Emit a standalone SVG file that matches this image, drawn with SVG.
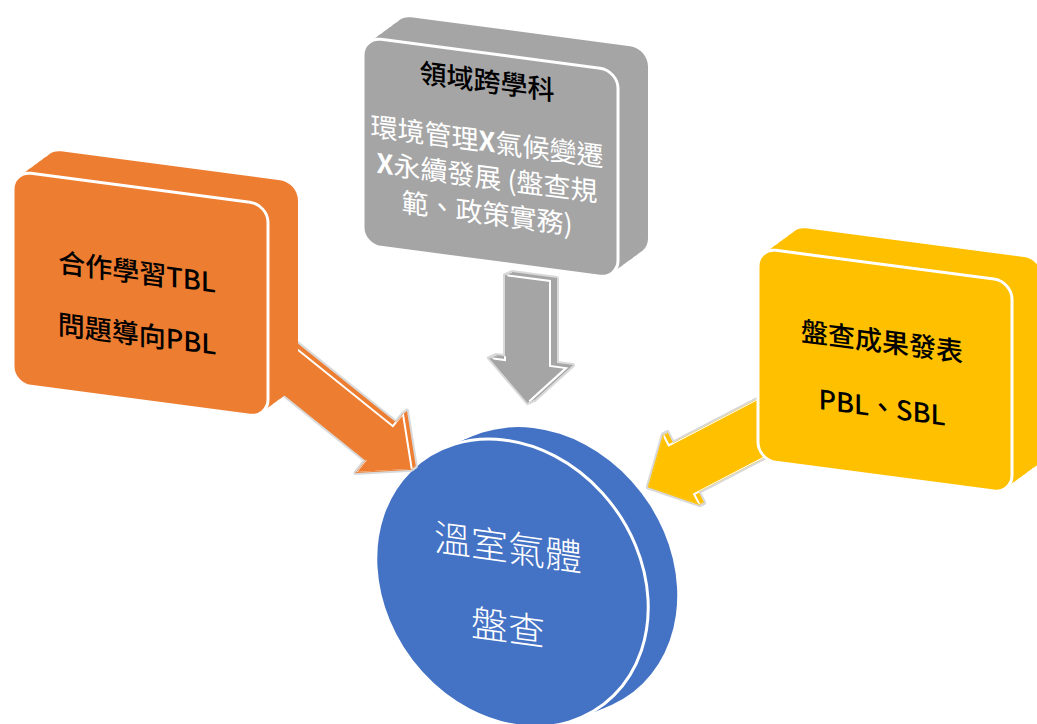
<svg xmlns="http://www.w3.org/2000/svg" xmlns:xlink="http://www.w3.org/1999/xlink" width="1037" height="724" viewBox="0 0 1037 724">
  <style>
    text { font-family: "Noto Sans CJK TC", "Noto Sans CJK SC", "Liberation Sans", sans-serif; text-anchor: middle; }
    .title { font-size: 27px; font-weight: 500; fill: #000; }
    .body { font-size: 27px; font-weight: 400; fill: #fff; }
    .disc-label { font-size: 37px; font-weight: 300; fill: #fff; }
    .halo use { fill: #D9D9D9; stroke: #D9D9D9; stroke-width: 4; stroke-linejoin: round; }
    .rim { fill: none; stroke: #fff; stroke-width: 2; }
    .face-rim { stroke: #fff; stroke-width: 3; }
  </style>
  <defs>
    <!-- front faces of the tilted boxes, in their own skewed plane -->
    <rect id="boxOrange" width="255" height="213" rx="18"/>
    <rect id="boxGray" width="255" height="208" rx="18"/>
    <rect id="boxYellow" width="254" height="212" rx="18"/>
    <!-- front face of the disc -->
    <circle id="disc" r="1" transform="matrix(136 16 8 143 512 583)" vector-effect="non-scaling-stroke"/>
    <!-- block arrows, local coordinates -->
    <polygon id="arrowGray" points="-22.5,0 22.5,0 22.5,85 38.5,85 0,125 -38.5,85 -22.5,85"/>
    <polygon id="arrowOrange" points="-15,-20 123,-20 123,-36 165,2 123,40 123,24 -15,24"/>
    <polygon id="arrowYellow" points="-10,27.5 105.5,27.5 105.5,40 143.5,0 105.5,-40 105.5,-27.5 -10,-27.5"/>
    <!-- extruded depth of each arrow, used to keep the white edge on the side faces only -->
    <clipPath id="clipGray">
      <use xlink:href="#arrowGray" x="2.33" y="-1.3"/>
      <use xlink:href="#arrowGray" x="4.67" y="-2.6"/>
      <use xlink:href="#arrowGray" x="7" y="-3.9"/>
    </clipPath>
    <clipPath id="clipOrange">
      <use xlink:href="#arrowOrange" x="0.4" y="-1.63"/>
      <use xlink:href="#arrowOrange" x="0.8" y="-3.27"/>
      <use xlink:href="#arrowOrange" x="1.2" y="-4.9"/>
    </clipPath>
    <clipPath id="clipYellow">
      <use xlink:href="#arrowYellow" x="-1.67" y="0"/>
      <use xlink:href="#arrowYellow" x="-3.33" y="0"/>
      <use xlink:href="#arrowYellow" x="-5" y="0"/>
    </clipPath>
  </defs>

  <rect width="1037" height="724" fill="#fff"/>

  <!-- central disc -->
  <g id="node-ghg">
    <g fill="#4472C4">
      <use xlink:href="#disc" transform="translate(29,-12)"/>
      <use xlink:href="#disc" transform="translate(21.75,-9)"/>
      <use xlink:href="#disc" transform="translate(14.5,-6)"/>
      <use xlink:href="#disc" transform="translate(7.25,-3)"/>
    </g>
    <use xlink:href="#disc" fill="#4472C4" stroke="#fff" stroke-width="3"/>
    <g transform="translate(508,561) skewY(8)">
      <text class="disc-label" x="0" y="0">溫室氣體</text>
      <text class="disc-label" x="0" y="80">盤查</text>
    </g>
  </g>

  <!-- connectors: 3D block arrows pointing at the disc -->
  <g id="connectors">
    <g id="arrow-gray" transform="translate(527.5,278) skewY(7.5)">
      <g class="halo">
        <use xlink:href="#arrowGray"/>
        <use xlink:href="#arrowGray" x="2.33" y="-1.3"/>
        <use xlink:href="#arrowGray" x="4.67" y="-2.6"/>
        <use xlink:href="#arrowGray" x="7" y="-3.9"/>
      </g>
      <g fill="#A5A5A5">
        <use xlink:href="#arrowGray"/>
        <use xlink:href="#arrowGray" x="2.33" y="-1.3"/>
        <use xlink:href="#arrowGray" x="4.67" y="-2.6"/>
        <use xlink:href="#arrowGray" x="7" y="-3.9"/>
      </g>
      <use xlink:href="#arrowGray" class="rim" clip-path="url(#clipGray)"/>
    </g>
    <g id="arrow-orange" transform="translate(284.5,364.7) rotate(38.8)">
      <g class="halo">
        <use xlink:href="#arrowOrange"/>
        <use xlink:href="#arrowOrange" x="0.4" y="-1.63"/>
        <use xlink:href="#arrowOrange" x="0.8" y="-3.27"/>
        <use xlink:href="#arrowOrange" x="1.2" y="-4.9"/>
      </g>
      <g fill="#ED7D31">
        <use xlink:href="#arrowOrange"/>
        <use xlink:href="#arrowOrange" x="0.4" y="-1.63"/>
        <use xlink:href="#arrowOrange" x="0.8" y="-3.27"/>
        <use xlink:href="#arrowOrange" x="1.2" y="-4.9"/>
      </g>
      <use xlink:href="#arrowOrange" class="rim" clip-path="url(#clipOrange)"/>
    </g>
    <g id="arrow-yellow" transform="translate(775,421) rotate(152.5)">
      <g class="halo">
        <use xlink:href="#arrowYellow"/>
        <use xlink:href="#arrowYellow" x="-1.67" y="0"/>
        <use xlink:href="#arrowYellow" x="-3.33" y="0"/>
        <use xlink:href="#arrowYellow" x="-5" y="0"/>
      </g>
      <g fill="#FFC000">
        <use xlink:href="#arrowYellow"/>
        <use xlink:href="#arrowYellow" x="-1.67" y="0"/>
        <use xlink:href="#arrowYellow" x="-3.33" y="0"/>
        <use xlink:href="#arrowYellow" x="-5" y="0"/>
      </g>
      <use xlink:href="#arrowYellow" class="rim" clip-path="url(#clipYellow)"/>
    </g>
  </g>

  <!-- orange box -->
  <g id="node-teamwork" transform="translate(13,171) skewY(7.5)">
    <g fill="#ED7D31">
      <use xlink:href="#boxOrange" x="30" y="-26"/>
      <use xlink:href="#boxOrange" x="25" y="-21.67"/>
      <use xlink:href="#boxOrange" x="20" y="-17.33"/>
      <use xlink:href="#boxOrange" x="15" y="-13"/>
      <use xlink:href="#boxOrange" x="10" y="-8.67"/>
      <use xlink:href="#boxOrange" x="5" y="-4.33"/>
    </g>
    <use xlink:href="#boxOrange" fill="#ED7D31" class="face-rim"/>
    <text class="title" x="124" y="95">合作學習TBL</text>
    <text class="title" x="124" y="157">問題導向PBL</text>
  </g>

  <!-- gray box -->
  <g id="node-interdisciplinary" transform="translate(363,37) skewY(7.5)">
    <g fill="#A5A5A5">
      <use xlink:href="#boxGray" x="30" y="-26"/>
      <use xlink:href="#boxGray" x="25" y="-21.67"/>
      <use xlink:href="#boxGray" x="20" y="-17.33"/>
      <use xlink:href="#boxGray" x="15" y="-13"/>
      <use xlink:href="#boxGray" x="10" y="-8.67"/>
      <use xlink:href="#boxGray" x="5" y="-4.33"/>
    </g>
    <use xlink:href="#boxGray" fill="#A5A5A5" class="face-rim"/>
    <text class="title" x="124" y="38">領域跨學科</text>
    <text class="body" x="124" y="98">環境管理<tspan font-weight="700">X</tspan>氣候變遷</text>
    <text class="body" x="124" y="134"><tspan font-weight="700">X</tspan>永續發展 (盤查規</text>
    <text class="body" x="124" y="170">範、政策實務)</text>
  </g>

  <!-- yellow box -->
  <g id="node-presentation" transform="translate(758,248) skewY(7.5)">
    <g fill="#FFC000">
      <use xlink:href="#boxYellow" x="30" y="-26"/>
      <use xlink:href="#boxYellow" x="25" y="-21.67"/>
      <use xlink:href="#boxYellow" x="20" y="-17.33"/>
      <use xlink:href="#boxYellow" x="15" y="-13"/>
      <use xlink:href="#boxYellow" x="10" y="-8.67"/>
      <use xlink:href="#boxYellow" x="5" y="-4.33"/>
    </g>
    <use xlink:href="#boxYellow" fill="#FFC000" class="face-rim"/>
    <text class="title" x="124" y="87">盤查成果發表</text>
    <text class="title" x="124" y="153">PBL、SBL</text>
  </g>
</svg>
